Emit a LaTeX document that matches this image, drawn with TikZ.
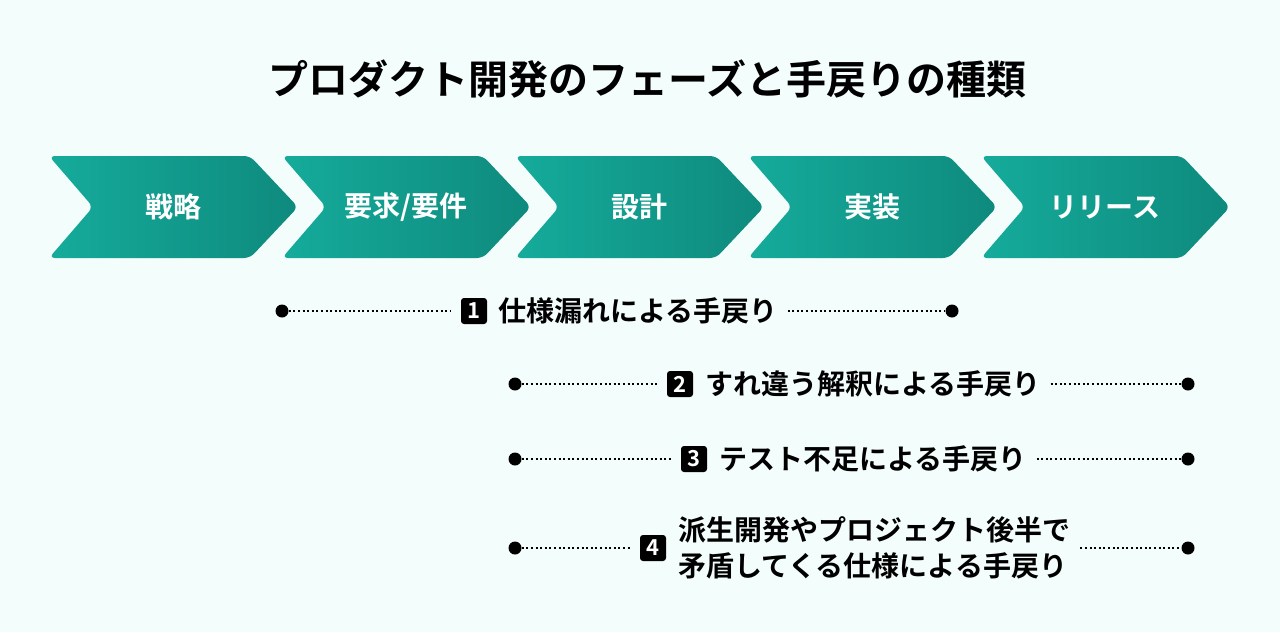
\documentclass[tikz,border=0pt]{standalone}
\usepackage{fontspec}
\setmainfont{Noto Sans CJK JP}[BoldFont={Noto Sans CJK JP Bold}]
\begin{document}
\begin{tikzpicture}[x=1pt,y=-1pt,
  chev/.style={left color=tealL,right color=tealR,rounded corners=6pt},
  ctext/.style={text=white,font=\bfseries\fontsize{28}{30}\selectfont},
  dot/.style={circle,fill=black,inner sep=0,minimum size=13pt},
  badge/.style={fill=black,rounded corners=3pt,text=white,minimum size=26pt,inner sep=0,font=\bfseries\fontsize{22}{24}\selectfont},
  lbl/.style={font=\bfseries\fontsize{28}{36}\selectfont,anchor=west,inner sep=0,align=left},
  dl/.style={line width=2pt,dash pattern=on 2pt off 2.6pt}]
\definecolor{tealL}{HTML}{15AB9B}
\definecolor{tealR}{HTML}{0E8A7D}
\definecolor{bg}{HTML}{F3FDFB}
\fill[bg] (0,0) rectangle (1280,632);
\useasboundingbox (0,0) rectangle (1280,632);
\node[font=\bfseries\fontsize{40}{44}\selectfont] (title) at (647,79) {プロダクト開発のフェーズと手戻りの種類};
\foreach \x/\t/\n in {49/{戦略}/c1,282/{要求/要件}/c2,515/{設計}/c3,748/{実装}/c4,981/{リリース}/c5}{
  \shade[chev] (\x,156) -- (\x+201,156) -- (\x+249,207) -- (\x+201,258) -- (\x,258) -- (\x+44,207) -- cycle;
  \node[ctext] (\n) at (\x+124,207) {\t};
}
% row 1
\node[dot] (a1) at (282,311) {};
\node[dot] (b1) at (952,311) {};
\node[badge] (n1) at (474,311) {1};
\node[lbl] (t1) at (498,311) {仕様漏れによる手戻り};
\draw[dl] (a1) -- ([xshift=-10pt]n1.west);
\draw[dl] ([xshift=10pt]t1.east) -- (b1);
% row 2
\node[dot] (a2) at (515,384) {};
\node[dot] (b2) at (1188,384) {};
\node[badge] (n2) at (680,384) {2};
\node[lbl] (t2) at (705,384) {すれ違う解釈による手戻り};
\draw[dl] (a2) -- ([xshift=-10pt]n2.west);
\draw[dl] ([xshift=10pt]t2.east) -- (b2);
% row 3
\node[dot] (a3) at (515,459) {};
\node[dot] (b3) at (1188,459) {};
\node[badge] (n3) at (694,459) {3};
\node[lbl] (t3) at (719,459) {テスト不足による手戻り};
\draw[dl] (a3) -- ([xshift=-10pt]n3.west);
\draw[dl] ([xshift=10pt]t3.east) -- (b3);
% row 4
\node[dot] (a4) at (515,548) {};
\node[dot] (b4) at (1188,548) {};
\node[badge] (n4) at (653,548) {4};
\node[lbl] (t4) at (678,548) {派生開発やプロジェクト後半で\\矛盾してくる仕様による手戻り};
\draw[dl] (a4) -- ([xshift=-10pt]n4.west);
\draw[dl] ([xshift=10pt]t4.east) -- (b4);
\end{tikzpicture}
\end{document}
